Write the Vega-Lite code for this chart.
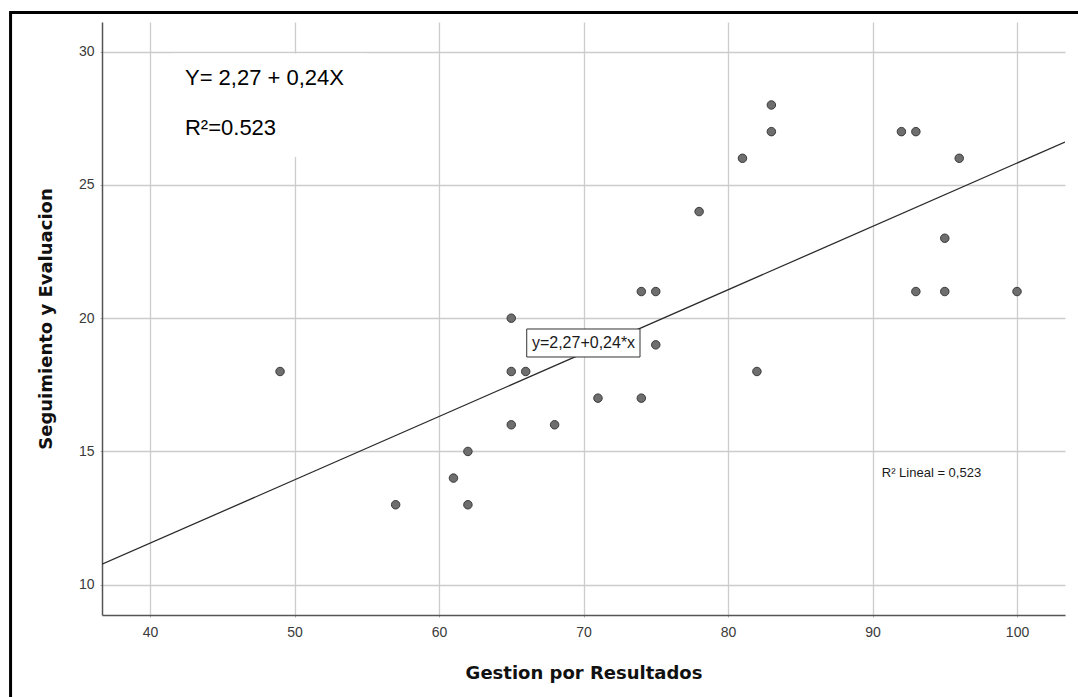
{
  "$schema": "https://vega.github.io/schema/vega-lite/v6.json",
  "width": 963,
  "height": 593,
  "autosize": {"type": "none"},
  "padding": {"left": 102, "top": 22, "right": 13, "bottom": 82},
  "background": "white",
  "config": {
    "view": {"stroke": null},
    "font": "Liberation Sans",
    "axis": {
      "grid": true,
      "labelFont": "Liberation Sans",
      "labelFontSize": 14,
      "labelColor": "#3a3a3a",
      "domainColor": "#555555",
      "domainWidth": 1.5,
      "gridColor": "#cccccc",
      "gridWidth": 1.3,
      "tickColor": "#aaaaaa",
      "tickSize": 2,
      "titleFont": "DejaVu Sans",
      "titleFontWeight": "bold",
      "titleFontSize": 18,
      "titleColor": "#111111"
    }
  },
  "data": {
    "values": [
      {"gestion": 49, "seguimiento": 18},
      {"gestion": 57, "seguimiento": 13},
      {"gestion": 61, "seguimiento": 14},
      {"gestion": 62, "seguimiento": 15},
      {"gestion": 62, "seguimiento": 13},
      {"gestion": 65, "seguimiento": 20},
      {"gestion": 65, "seguimiento": 18},
      {"gestion": 65, "seguimiento": 16},
      {"gestion": 66, "seguimiento": 18},
      {"gestion": 68, "seguimiento": 16},
      {"gestion": 71, "seguimiento": 17},
      {"gestion": 74, "seguimiento": 21},
      {"gestion": 74, "seguimiento": 17},
      {"gestion": 75, "seguimiento": 21},
      {"gestion": 75, "seguimiento": 19},
      {"gestion": 78, "seguimiento": 24},
      {"gestion": 81, "seguimiento": 26},
      {"gestion": 82, "seguimiento": 18},
      {"gestion": 83, "seguimiento": 28},
      {"gestion": 83, "seguimiento": 27},
      {"gestion": 92, "seguimiento": 27},
      {"gestion": 93, "seguimiento": 27},
      {"gestion": 93, "seguimiento": 21},
      {"gestion": 95, "seguimiento": 23},
      {"gestion": 95, "seguimiento": 21},
      {"gestion": 96, "seguimiento": 26},
      {"gestion": 100, "seguimiento": 21}
    ]
  },
  "layer": [
    {
      "transform": [{"aggregate": [{"op": "count", "as": "n"}]}],
      "mark": {"type": "rect", "fill": "white", "stroke": null},
      "encoding": {
        "x": {"datum": 41.6, "type": "quantitative"},
        "x2": {"datum": 55},
        "y": {"datum": 29.93, "type": "quantitative"},
        "y2": {"datum": 26.05}
      }
    },
    {
      "transform": [{"regression": "seguimiento", "on": "gestion", "extent": [36.678, 103.32]}],
      "mark": {"type": "line", "color": "#2b2b2b", "strokeWidth": 1.3, "clip": true},
      "encoding": {
        "x": {"field": "gestion", "type": "quantitative", "title": "Gestion por Resultados",
              "scale": {"domain": [36.678, 103.32], "nice": false, "zero": false}},
        "y": {"field": "seguimiento", "type": "quantitative", "title": "Seguimiento y Evaluacion",
              "scale": {"domain": [8.863, 31.114], "nice": false, "zero": false}}
      }
    },
    {
      "mark": {"type": "point", "filled": true, "shape": "circle", "size": 72, "fill": "#6e6e6e", "stroke": "#3a3a3a", "strokeWidth": 1, "opacity": 1},
      "encoding": {
        "x": {
          "field": "gestion", "type": "quantitative",
          "title": "Gestion por Resultados",
          "scale": {"domain": [36.678, 103.32], "nice": false, "zero": false},
          "axis": {
            "grid": true,
            "values": [40, 50, 60, 70, 80, 90, 100],
            "labelPadding": 8,
            "titleY": 63,
            "titleBaseline": "alphabetic"
          }
        },
        "y": {
          "field": "seguimiento", "type": "quantitative",
          "title": "Seguimiento y Evaluacion",
          "scale": {"domain": [8.863, 31.114], "nice": false, "zero": false},
          "axis": {
            "grid": true,
            "values": [10, 15, 20, 25, 30],
            "labelPadding": 6,
            "titleX": -51,
            "titleBaseline": "alphabetic"
          }
        }
      }
    },
    {
      "transform": [{"aggregate": [{"op": "count", "as": "n"}]}],
      "mark": {"type": "rect", "fill": "white", "stroke": "#333333", "strokeWidth": 1},
      "encoding": {
        "x": {"datum": 66.07, "type": "quantitative"},
        "x2": {"datum": 73.91},
        "y": {"datum": 19.595, "type": "quantitative"},
        "y2": {"datum": 18.544}
      }
    },
    {
      "transform": [{"aggregate": [{"op": "count", "as": "n"}]}],
      "mark": {"type": "text", "text": "y=2,27+0,24*x", "font": "Liberation Sans", "fontSize": 16, "fill": "#1a1a1a", "align": "center", "baseline": "middle"},
      "encoding": {
        "x": {"datum": 70.0, "type": "quantitative"},
        "y": {"datum": 19.07, "type": "quantitative"}
      }
    },
    {
      "transform": [{"aggregate": [{"op": "count", "as": "n"}]}],
      "mark": {"type": "text", "text": "Y= 2,27 + 0,24X", "font": "Liberation Sans", "fontSize": 22, "fill": "#000000", "align": "left", "baseline": "alphabetic"},
      "encoding": {
        "x": {"datum": 42.42, "type": "quantitative"},
        "y": {"datum": 28.75, "type": "quantitative"}
      }
    },
    {
      "transform": [{"aggregate": [{"op": "count", "as": "n"}]}],
      "mark": {"type": "text", "text": "R²=0.523", "font": "Liberation Sans", "fontSize": 22, "fill": "#000000", "align": "left", "baseline": "alphabetic"},
      "encoding": {
        "x": {"datum": 42.42, "type": "quantitative"},
        "y": {"datum": 26.87, "type": "quantitative"}
      }
    },
    {
      "transform": [{"aggregate": [{"op": "count", "as": "n"}]}],
      "mark": {"type": "text", "text": "R² Lineal = 0,523", "font": "Liberation Sans", "fontSize": 13, "fill": "#1a1a1a", "align": "left", "baseline": "alphabetic"},
      "encoding": {
        "x": {"datum": 90.64, "type": "quantitative"},
        "y": {"datum": 14.05, "type": "quantitative"}
      }
    },
    {
      "transform": [{"aggregate": [{"op": "count", "as": "n"}]}],
      "mark": {"type": "rule", "color": "#000000", "strokeWidth": 3},
      "encoding": {
        "x": {"datum": 30.35, "type": "quantitative"},
        "y": {"datum": 31.47, "type": "quantitative"},
        "y2": {"datum": 5.0}
      }
    },
    {
      "transform": [{"aggregate": [{"op": "count", "as": "n"}]}],
      "mark": {"type": "rule", "color": "#000000", "strokeWidth": 3},
      "encoding": {
        "x": {"datum": 30.25, "type": "quantitative"},
        "x2": {"datum": 105.5},
        "y": {"datum": 31.47, "type": "quantitative"}
      }
    }
  ]
}
